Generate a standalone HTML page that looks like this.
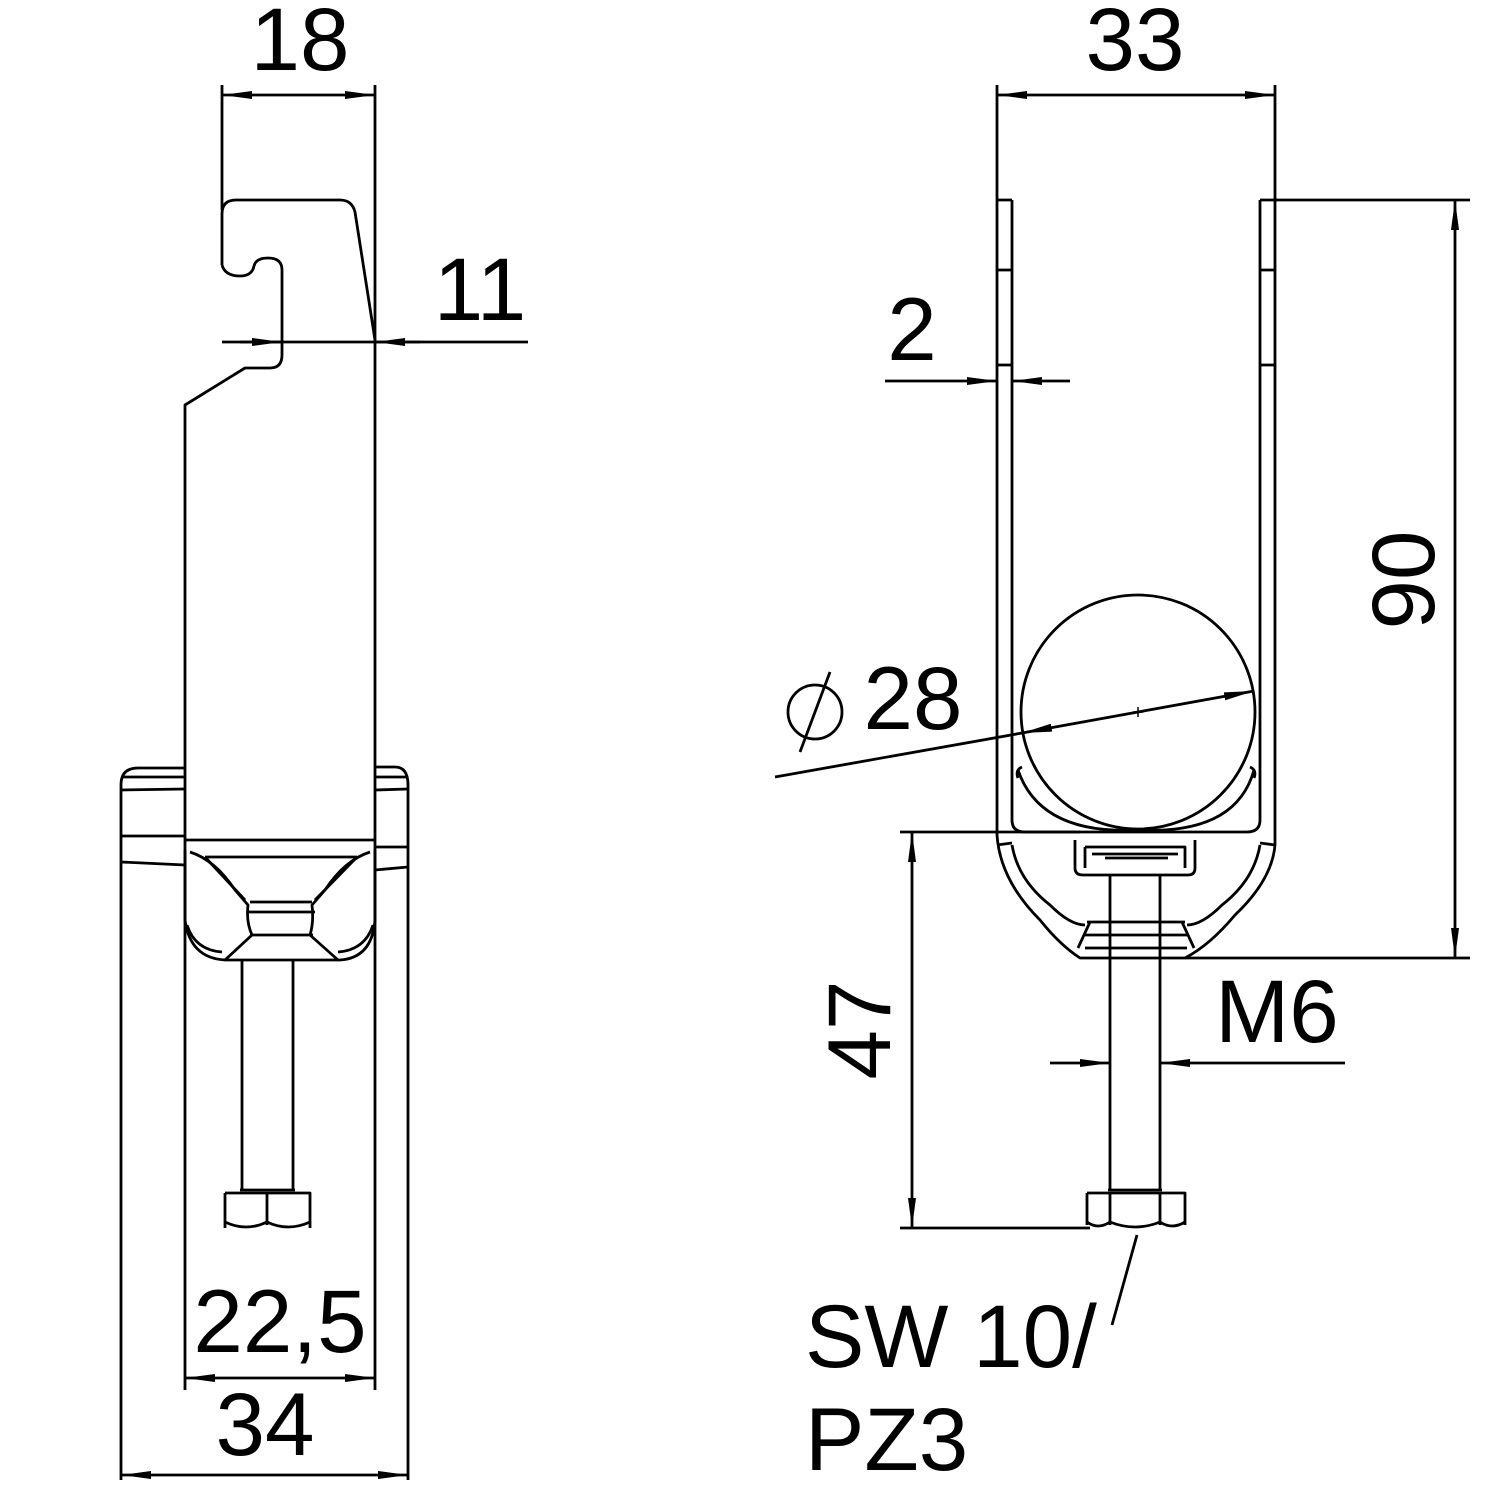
<!DOCTYPE html>
<html><head><meta charset="utf-8"><style>html,body{margin:0;padding:0;background:#fff}svg{display:block}</style></head>
<body>
<svg width="1500" height="1500" viewBox="0 0 1500 1500" xmlns="http://www.w3.org/2000/svg">
<defs>
<marker id="a" viewBox="0 0 30 10" refX="30" refY="5" markerWidth="30" markerHeight="10" markerUnits="userSpaceOnUse" orient="auto"><path d="M0,1 L30,5 L0,9 z" fill="#000"/></marker>
</defs>
<g fill="none" stroke="#000" stroke-width="2.8" stroke-linejoin="round">
<line x1="222" y1="85" x2="222" y2="210"/>
<line x1="375" y1="85" x2="375" y2="1390"/>
<line x1="300" y1="95" x2="222" y2="95" marker-end="url(#a)"/>
<line x1="300" y1="95" x2="375" y2="95" marker-end="url(#a)"/>
<path d="M222,265 L222,214 Q222,200 236,200 L340,200 Q352,200 355,212 L375,340"/>
<path d="M222,265 Q225,276 240,276 Q252,276 254,266 Q256,258 268,258 Q282,258 282,270 L282,355 Q282,368 270,368 L245,368 L185,405 L185,1390"/>
<line x1="222" y1="342" x2="528" y2="342"/>
<line x1="240" y1="342" x2="282" y2="342" marker-end="url(#a)"/>
<line x1="420" y1="342" x2="375" y2="342" marker-end="url(#a)"/>
<path d="M121,1480 L121,785 Q121,768 138,768 L185,768"/>
<path d="M121,777 L185,777 M121,790 L185,789 M121,836 L185,836 M121,862 L185,865"/>
<path d="M375,767 L395,767 Q408,767 408,785 L408,1480"/>
<path d="M375,777 L408,777 M375,790 L408,789 M375,847 L408,847 M375,870 L408,867"/>
<line x1="185" y1="840" x2="375" y2="840"/>
<line x1="205" y1="857" x2="357" y2="857"/>
<path d="M185,850 L185,920 Q190,958 225,960 L340,960 Q372,958 375,920 L375,850"/>
<path d="M250,902 L312,902 M247,912 L315,912 M250,935 L313,935"/>
<path d="M190,852 Q215,860 235,890 L248,905 Q246,922 252,935 L225,960"/>
<path d="M205,857 L245,900"/>
<path d="M370,852 Q345,860 325,890 L312,905 Q314,922 310,935 L338,960"/>
<path d="M357,857 L315,900"/>
<path d="M187,925 Q195,950 222,952 M373,925 Q365,950 338,952"/>
<path d="M242,960 L242,1190 M293,960 L293,1190 M240,1190 L295,1190"/>
<path d="M225,1193 L310,1193 L310,1228 M225,1193 L225,1228 M267,1193 L267,1225"/>
<path d="M225,1222 Q246,1232 267,1222 Q288,1232 310,1222"/>
<line x1="280" y1="1378" x2="185" y2="1378" marker-end="url(#a)"/>
<line x1="280" y1="1378" x2="375" y2="1378" marker-end="url(#a)"/>
<line x1="265" y1="1475" x2="121" y2="1475" marker-end="url(#a)"/>
<line x1="265" y1="1475" x2="408" y2="1475" marker-end="url(#a)"/>

<line x1="997" y1="85" x2="997" y2="200"/>
<line x1="1275" y1="85" x2="1275" y2="200"/>
<line x1="1135" y1="95" x2="997" y2="95" marker-end="url(#a)"/>
<line x1="1135" y1="95" x2="1275" y2="95" marker-end="url(#a)"/>
<path d="M997,200 L1012,200 M1260,200 L1275,200"/>
<path d="M997,200 L997,835 Q1000,880 1040,920 Q1060,945 1080,958 L1185,958 Q1210,945 1235,915 Q1272,880 1275,845 L1275,200"/>
<path d="M1012,200 L1012,820 Q1012,832 1025,832 L1247,832 Q1260,832 1260,820 L1260,200"/>
<path d="M997,270 L1012,270 M997,365 L1012,365 M1260,270 L1275,270 M1260,365 L1275,365"/>
<path d="M997,845 L1012,843 M1260,843 L1275,845"/>
<path d="M1012,845 Q1018,880 1050,905 Q1070,925 1085,925 M1260,845 Q1254,880 1222,905 Q1202,925 1187,925"/>
<path d="M1087,922 L1185,922 M1085,935 L1187,935 M1085,948 L1187,948"/>
<path d="M1090,922 L1078,948 M1182,922 L1194,948"/>
<circle cx="1138" cy="712" r="117"/>
<path d="M1133,712 L1143,712 M1138,707 L1138,717" stroke-width="1.5"/>
<path d="M1018,770 Q1040,835 1138,830 Q1236,835 1254,770"/>
<path d="M1022,767 Q1015,770 1018,778 M1250,767 Q1257,770 1254,778"/>
<path d="M1075,840 L1075,868 Q1075,875 1083,875 L1188,875 Q1195,875 1195,868 L1195,840"/>
<path d="M1085,847 L1185,847 L1185,868 M1085,847 L1085,868 M1092,854 L1178,854 M1105,858 L1168,858"/>
<path d="M1110,875 L1110,1190 M1160,875 L1160,1190 M1108,1190 L1162,1190"/>
<path d="M1087,1193 L1185,1193 L1185,1225 M1087,1193 L1087,1225 M1110,1193 L1110,1225 M1160,1193 L1160,1225"/>
<path d="M1087,1222 Q1098,1230 1110,1222 Q1135,1232 1160,1222 Q1172,1230 1185,1222"/>
<line x1="1275" y1="200" x2="1470" y2="200"/>
<line x1="1185" y1="958" x2="1470" y2="958"/>
<line x1="1455" y1="580" x2="1455" y2="200" marker-end="url(#a)"/>
<line x1="1455" y1="580" x2="1455" y2="958" marker-end="url(#a)"/>
<line x1="885" y1="381" x2="997" y2="381" marker-end="url(#a)"/>
<line x1="1070" y1="381" x2="1012" y2="381" marker-end="url(#a)"/>
<line x1="775" y1="777" x2="1022" y2="733"/>
<line x1="1138" y1="712" x2="1022" y2="733" marker-end="url(#a)"/>
<line x1="1138" y1="712" x2="1254" y2="691" marker-end="url(#a)"/>
<circle cx="815" cy="712" r="27"/>
<line x1="800" y1="752" x2="830" y2="672"/>
<line x1="900" y1="832" x2="1080" y2="832"/>
<line x1="900" y1="1228" x2="1090" y2="1228"/>
<line x1="912" y1="1030" x2="912" y2="832" marker-end="url(#a)"/>
<line x1="912" y1="1030" x2="912" y2="1228" marker-end="url(#a)"/>
<line x1="1050" y1="1063" x2="1110" y2="1063" marker-end="url(#a)"/>
<line x1="1345" y1="1063" x2="1160" y2="1063" marker-end="url(#a)"/>
<line x1="1137" y1="1235" x2="1112" y2="1325"/>
</g>
<g font-family="Liberation Sans, sans-serif" font-size="89" fill="#000">
<text x="300" y="70" text-anchor="middle">18</text>
<text x="480" y="320" text-anchor="middle">11</text>
<text x="280" y="1352" text-anchor="middle">22,5</text>
<text x="265" y="1455" text-anchor="middle">34</text>
<text x="1135" y="70" text-anchor="middle">33</text>
<text x="912" y="360" text-anchor="middle">2</text>
<text x="913" y="729" text-anchor="middle">28</text>
<text x="1277" y="1042" text-anchor="middle">M6</text>
<text x="805" y="1367">SW 10/</text>
<text x="805" y="1470">PZ3</text>
<text transform="translate(1434,580) rotate(-90)" text-anchor="middle">90</text>
<text transform="translate(890,1030) rotate(-90)" text-anchor="middle">47</text>
</g>
</svg>
</body></html>
